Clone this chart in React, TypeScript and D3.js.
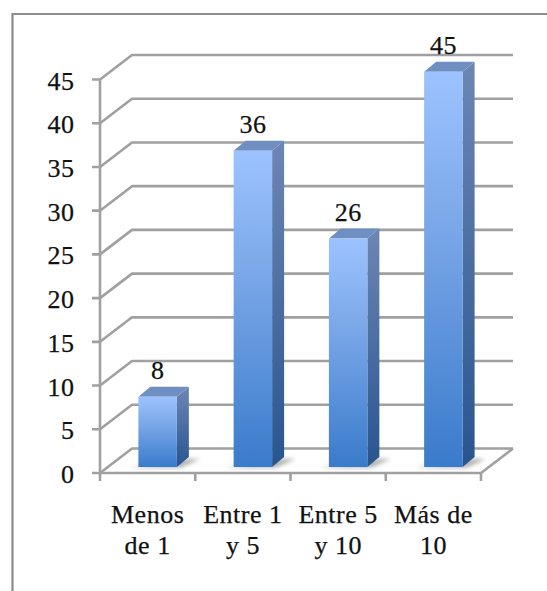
import React from "react";
import * as d3 from "d3";

const categories = [["Menos", "de 1"], ["Entre 1", "y 5"], ["Entre 5", "y 10"], ["Más de", "10"]];
const values = [8, 36, 26, 45];
const yTicks = [0, 5, 10, 15, 20, 25, 30, 35, 40, 45];

const WIDTH = 547;
const HEIGHT = 591;
const FONT = "'Liberation Serif', serif";
const GRID = "#a0a0a0";

// Oblique projection of the chart's box
const FLOOR_DX = 32;
const FLOOR_DY = -24.5;
const BAR_DX = 12;
const BAR_DY = -10;
const INSET_X = 10;

const x = d3
  .scaleBand<number>()
  .domain(d3.range(categories.length))
  .range([100, 481])
  .paddingInner(0.596)
  .paddingOuter(0.298);
const y = d3.scaleLinear().domain([0, 45]).range([473, 79.5]);
const barY = d3.scaleLinear().domain([0, 45]).range([467, 71.7]);

const poly = (pts: [number, number][]) => pts.map((p) => p.join(",")).join(" ");

export default function App() {
  const left = x.range()[0];
  const right = x.range()[1];
  const step = x.step();
  const w = x.bandwidth();
  const base = y(0);
  return (
    <svg
      width={WIDTH}
      height={HEIGHT}
      viewBox={`0 0 ${WIDTH} ${HEIGHT}`}
      style={{ position: "absolute", left: 0, top: 0, background: "#fff" }}
    >
      <defs>
        <linearGradient id="front" x1="0" y1="0" x2="0" y2="1">
          <stop offset="0" stopColor="#9cc3ff" />
          <stop offset="0.35" stopColor="#7eaaea" />
          <stop offset="1" stopColor="#3a7bcb" />
        </linearGradient>
        <linearGradient id="side" x1="0" y1="0" x2="0" y2="1">
          <stop offset="0" stopColor="#6d86b4" />
          <stop offset="1" stopColor="#28558f" />
        </linearGradient>
        <filter id="soft" x="-30%" y="-60%" width="160%" height="220%">
          <feGaussianBlur stdDeviation="2" />
        </filter>
      </defs>

      {/* outer frame: top and left edges only */}
      <path d="M547,14H12.5V591" fill="none" stroke="#8c8c8c" strokeWidth={2.2} />

      {/* value axis with the wall and floor grid */}
      <g fill="none" stroke={GRID} strokeWidth={2.6} strokeLinejoin="round">
        {yTicks.map((t) => (
          <path
            key={t}
            d={`M${left - 8},${y(t)}H${left}L${left + FLOOR_DX},${y(t) + FLOOR_DY}H${right + FLOOR_DX}`}
          />
        ))}
        <path d={`M${left},${y(45)}V${base + 8}`} />
        <path d={`M${left},${base}H${right}L${right + FLOOR_DX},${base + FLOOR_DY}`} />
        {categories.map((_, i) => (
          <path key={i} d={`M${left + step * (i + 1)},${base}v8`} />
        ))}
      </g>

      {/* bars */}
      {values.map((v, i) => {
        const x0 = (x(i) as number) + INSET_X;
        const x1 = x0 + w;
        const top = barY(v);
        const bottom = barY(0);
        return (
          <g key={i}>
            <polygon
              points={poly([
                [x0 - 9, bottom + 0.5],
                [x1 + 4, bottom + 0.5],
                [x1 + BAR_DX + 11, bottom - 8],
                [x1 + BAR_DX, bottom - 8],
              ])}
              fill="#808080"
              opacity={0.65}
              filter="url(#soft)"
            />
            <polygon
              points={poly([
                [x1, top],
                [x1 + BAR_DX, top + BAR_DY],
                [x1 + BAR_DX, bottom + BAR_DY],
                [x1, bottom],
              ])}
              fill="url(#side)"
            />
            <polygon
              points={poly([
                [x0, top],
                [x0 + BAR_DX, top + BAR_DY],
                [x1 + BAR_DX, top + BAR_DY],
                [x1, top],
              ])}
              fill="#6f8fc2"
            />
            <rect x={x0} y={top} width={w} height={bottom - top} fill="url(#front)" />
          </g>
        );
      })}

      {/* text */}
      <g
        fontFamily={FONT}
        fontSize={26}
        fill="#111"
        stroke="#111"
        strokeWidth={0.25}
        style={{ letterSpacing: "0.5px" }}
      >
        {yTicks.map((t) => (
          <text key={t} x={74.5} y={y(t) + 10} textAnchor="end">
            {t}
          </text>
        ))}
        {values.map((v, i) => (
          <text
            key={i}
            x={(x(i) as number) + INSET_X + w / 2}
            y={barY(v) - 18}
            textAnchor="middle"
          >
            {v}
          </text>
        ))}
        {categories.map((lines, i) => (
          <text key={i} textAnchor="middle">
            {lines.map((line, j) => (
              <tspan key={j} x={(x(i) as number) + w / 2} y={522.5 + j * 31.5}>
                {line}
              </tspan>
            ))}
          </text>
        ))}
      </g>
    </svg>
  );
}
